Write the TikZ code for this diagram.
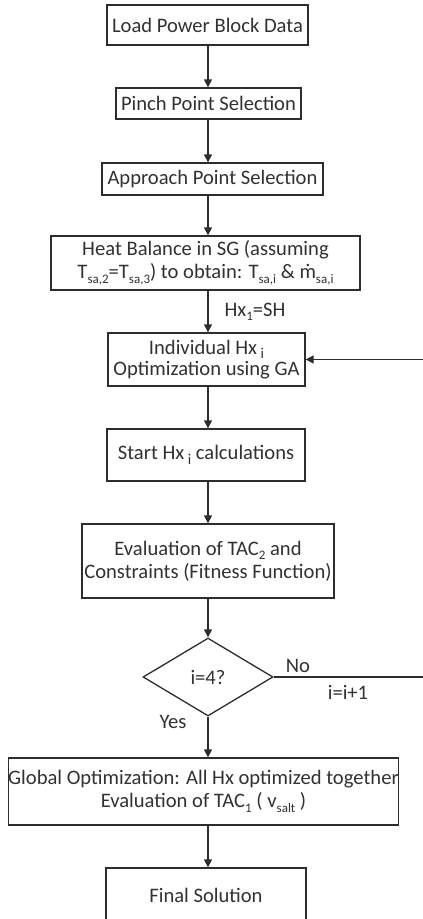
\documentclass[tikz,border=0pt]{standalone}
\usepackage{fontspec}
\setmainfont{Carlito}
\usetikzlibrary{arrows.meta,shapes.geometric}
\definecolor{linec}{RGB}{45,45,45}
\definecolor{txtc}{RGB}{50,50,50}
\newcommand{\mysub}[1]{\raisebox{-0.45ex}{\fontsize{13}{13}\selectfont #1}}
\newcommand{\mylow}[1]{\raisebox{-0.45ex}{\fontsize{15}{15}\selectfont #1}}
\begin{document}
\begin{tikzpicture}[x=1pt,y=-1pt,
  box/.style={draw=linec, line width=1.3pt, fill=white, inner sep=0pt, align=center,
    text=txtc, font=\fontsize{20.6}{23}\selectfont},
  lbl/.style={inner sep=0pt, text=txtc, font=\fontsize{20.6}{23}\selectfont},
  arr/.style={draw=linec, line width=1.3pt, -{Triangle[width=8pt,length=8pt]}},
  ln/.style={draw=linec, line width=1.3pt}]
\useasboundingbox (0,0) rectangle (423,919);
\clip (0,0) rectangle (423,919);
\fill[white] (0,0) rectangle (423,919);
\coordinate (ax) at (208,0);
\coordinate (fb) at (424,0);

\node[box, minimum width=201pt, minimum height=40pt] (load) at (207.5,25) {Load Power Block Data};
\node[box, minimum width=185pt, minimum height=31pt] (pinch) at (208.5,103.5) {Pinch Point Selection};
\node[box, minimum width=221pt, minimum height=32pt] (appr) at (212.5,179) {Approach Point Selection};
\node[box, minimum width=309pt, minimum height=54pt] (heat) at (205.5,263)
  {Heat Balance in SG (assuming\\T\mysub{sa,2}=T\mysub{sa,3}) to obtain: T\mysub{sa,i} \& ṁ\mysub{sa,i}};
\node[box, minimum width=197pt, minimum height=53pt, font=\fontsize{20.6}{21}\selectfont] (indiv) at (206.5,359.5)
  {Individual Hx\,\mylow{i}\\Optimization using GA};
\node[box, minimum width=198pt, minimum height=52pt] (start) at (206,455) {Start Hx\,\mylow{i} calculations};
\node[box, minimum width=252pt, minimum height=74pt] (eval) at (208,561)
  {Evaluation of TAC\mysub{2} and\\Constraints (Fitness Function)};
\node[box, diamond, aspect=1.67, minimum width=130pt, minimum height=78pt] (dia) at (208,677) {i=4?};
\node[box, minimum width=387pt, minimum height=67pt] (glob) at (203.5,791.5)
  {Global Optimization: All Hx optimized together\\Evaluation of TAC\mysub{1} ( v\mysub{salt} )};
\node[box, minimum width=200pt, minimum height=54pt] (final) at (206,895) {Final Solution};

\draw[arr] (load.south -| ax) -- (pinch.north -| ax);
\draw[arr] (pinch.south -| ax) -- (appr.north -| ax);
\draw[arr] (appr.south -| ax) -- (heat.north -| ax);
\draw[arr] (heat.south -| ax) -- (indiv.north -| ax);
\draw[arr] (indiv.south -| ax) -- (start.north -| ax);
\draw[arr] (start.south -| ax) -- (eval.north -| ax);
\draw[arr] (eval.south -| ax) -- (dia.north);
\draw[arr] (dia.south) -- (glob.north -| dia.south);
\draw[arr] (glob.south -| ax) -- (final.north -| ax);
\draw[arr] (dia.east) -- (dia.east -| fb) -- (indiv.east -| fb) -- (indiv.east);

\node[lbl] (hxl) at (255,312) {Hx\mysub{1}=SH};
\node[lbl] (no) at (298,666) {No};
\node[lbl] (inc) at (348,692) {i=i+1};
\node[lbl] (yes) at (173,722) {Yes};
\end{tikzpicture}
\end{document}
